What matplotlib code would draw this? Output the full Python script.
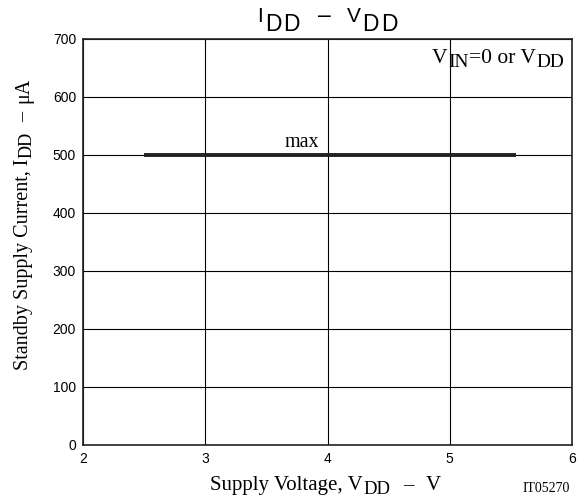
import matplotlib
matplotlib.use('Agg')
from matplotlib import pyplot as plt
import numpy as np

# data
vdd = [2.5, 5.54]
idd_max = [500, 500]
x_ticks = [2, 3, 4, 5, 6]
y_ticks = [0, 100, 200, 300, 400, 500, 600, 700]

W, H = 587, 499
SERIF = 'Liberation Serif'
SANS = 'Liberation Sans'

fig = plt.figure(figsize=(W / 100, H / 100), dpi=100)
ax = fig.add_axes([83 / W, 54 / H, 489 / W, 406 / H])
renderer = fig.canvas.get_renderer()


def rich(x0, y0, parts, size, family, rotation=0):
    # parts: (text, size scale, downward shift px, gap before px); x0, y0 in px from top-left
    pos = 0
    for txt, scale, shift, gap in parts:
        pos += gap
        if rotation == 0:
            px, py = x0 + pos, y0 + shift
        else:
            px, py = x0 + shift, y0 - pos
        t = fig.text(px / W, 1 - py / H, txt, fontsize=size * scale, family=family,
                     rotation=rotation, rotation_mode='anchor', ha='left', va='baseline')
        bb = t.get_window_extent(renderer)
        pos += bb.width if rotation == 0 else bb.height


ax.plot(vdd, idd_max, color='#222222', lw=2.8, solid_capstyle='butt')
ax.text(3.65, 514, 'max', family=SERIF, fontsize=14.5, ha='left', va='baseline')

ax.set_xlim(2, 6)
ax.set_ylim(0, 700)
ax.set_xticks(x_ticks)
ax.set_yticks(y_ticks)
ax.grid(True, color='black', lw=0.8)
ax.tick_params(length=0, labelsize=10, pad=5)
for lab in ax.get_xticklabels() + ax.get_yticklabels():
    lab.set_family(SANS)
for s in ax.spines.values():
    s.set_linewidth(1.2)
    s.set_color('#222222')

# title  I_DD - V_DD
rich(257, 22, [('I', 1, 0, 0), ('D', 1.1, 9, 2), ('D', 1.1, 9, 2), ('\u2013', 1.1, 0, 18),
               ('V', 1, 0, 16), ('D', 1.1, 9, 2), ('D', 1.1, 9, 2)], 15, SANS)

# x label
rich(210, 490, [('Supply Voltage, V', 1, 0, 0), ('DD', 0.9, 3.5, 1),
                ('\u2013', 1, 0, 12), ('V', 1, 0, 13)], 15, SERIF)

# y label
rich(28, 370, [('Standby Supply Current, I', 1, 0, 0), ('DD', 0.9, 3.5, 1),
               ('\u2013', 1, 0, 9), ('\u03bcA', 1, 0, 9)], 14.5, SERIF, rotation=90)

# condition note
rich(432, 63, [('V', 1, 0, 0), ('IN', 0.9, 4, 0.5), ('=0 or V', 1, 0, 0.5),
               ('DD', 0.9, 4, 0.5)], 15.5, SERIF)

fig.text(570 / W, 1 - 492 / H, 'IT05270', family=SERIF, fontsize=10, ha='right', va='baseline')

fig.savefig('out.png', dpi=100)
